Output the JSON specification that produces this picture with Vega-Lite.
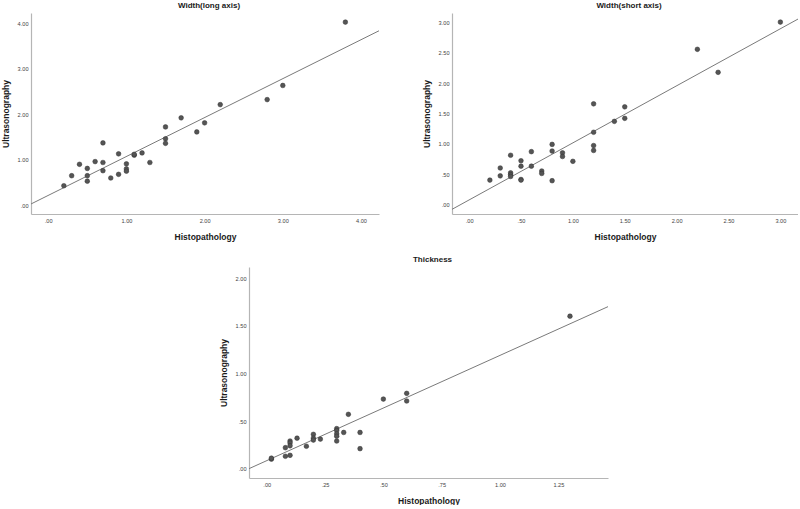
{
  "$schema": "https://vega.github.io/schema/vega-lite/v6.json",
  "padding": {"left": 1, "top": 2, "right": 0, "bottom": 0},
  "background": "white",
  "config": {
    "view": {"stroke": null},
    "font": "Liberation Sans",
    "axis": {"grid": false, "ticks": false, "tickSize": 0, "domainColor": "#b5b5b5", "domainWidth": 1.2, "labelFontSize": 5.6, "labelColor": "#444444", "labelFont": "Liberation Sans", "titleFont": "Liberation Sans", "titleFontSize": 8.5, "titleFontWeight": "bold", "titleColor": "#1a1a1a", "labelPadding": 3, "labelFlush": false, "labelOverlap": false},
    "axisX": {"labelPadding": 4.5, "titlePadding": 8},
    "axisY": {"titlePadding": 7},
    "title": {"fontSize": 8, "fontWeight": "bold", "color": "#1a1a1a", "font": "Liberation Sans", "offset": 3, "dx": 4}
  },
  "datasets": {
    "long": [
      {"histo": 0.2, "ultra": 0.43}, {"histo": 0.3, "ultra": 0.65}, {"histo": 0.4, "ultra": 0.90},
      {"histo": 0.5, "ultra": 0.81}, {"histo": 0.5, "ultra": 0.65}, {"histo": 0.5, "ultra": 0.53},
      {"histo": 0.6, "ultra": 0.96}, {"histo": 0.7, "ultra": 1.37}, {"histo": 0.7, "ultra": 0.94},
      {"histo": 0.7, "ultra": 0.76}, {"histo": 0.8, "ultra": 0.60}, {"histo": 0.9, "ultra": 1.13},
      {"histo": 0.9, "ultra": 0.68}, {"histo": 1.0, "ultra": 0.91}, {"histo": 1.0, "ultra": 0.80},
      {"histo": 1.0, "ultra": 0.75}, {"histo": 1.1, "ultra": 1.10}, {"histo": 1.1, "ultra": 1.12},
      {"histo": 1.2, "ultra": 1.15}, {"histo": 1.3, "ultra": 0.94}, {"histo": 1.5, "ultra": 1.72},
      {"histo": 1.5, "ultra": 1.46}, {"histo": 1.5, "ultra": 1.36}, {"histo": 1.7, "ultra": 1.92},
      {"histo": 1.9, "ultra": 1.61}, {"histo": 2.0, "ultra": 1.81}, {"histo": 2.2, "ultra": 2.21},
      {"histo": 2.8, "ultra": 2.32}, {"histo": 3.0, "ultra": 2.63}, {"histo": 3.8, "ultra": 4.02}
    ],
    "longLine": [{"histo": -0.22, "ultra": 0.03}, {"histo": 4.23, "ultra": 3.83}],
    "short": [
      {"histo": 0.2, "ultra": 0.40}, {"histo": 0.3, "ultra": 0.60}, {"histo": 0.3, "ultra": 0.47},
      {"histo": 0.4, "ultra": 0.81}, {"histo": 0.4, "ultra": 0.52}, {"histo": 0.4, "ultra": 0.49},
      {"histo": 0.4, "ultra": 0.46}, {"histo": 0.5, "ultra": 0.72}, {"histo": 0.5, "ultra": 0.63},
      {"histo": 0.5, "ultra": 0.41}, {"histo": 0.5, "ultra": 0.40}, {"histo": 0.6, "ultra": 0.87},
      {"histo": 0.6, "ultra": 0.63}, {"histo": 0.7, "ultra": 0.55}, {"histo": 0.7, "ultra": 0.51},
      {"histo": 0.8, "ultra": 0.99}, {"histo": 0.8, "ultra": 0.88}, {"histo": 0.8, "ultra": 0.39},
      {"histo": 0.9, "ultra": 0.85}, {"histo": 0.9, "ultra": 0.79}, {"histo": 1.0, "ultra": 0.71},
      {"histo": 1.2, "ultra": 1.66}, {"histo": 1.2, "ultra": 1.19}, {"histo": 1.2, "ultra": 0.97},
      {"histo": 1.2, "ultra": 0.89}, {"histo": 1.4, "ultra": 1.37}, {"histo": 1.5, "ultra": 1.61},
      {"histo": 1.5, "ultra": 1.42}, {"histo": 2.2, "ultra": 2.56}, {"histo": 2.4, "ultra": 2.18},
      {"histo": 3.0, "ultra": 3.01}
    ],
    "shortLine": [{"histo": -0.165, "ultra": -0.083}, {"histo": 3.17, "ultra": 3.06}],
    "thick": [
      {"histo": 0.02, "ultra": 0.10}, {"histo": 0.02, "ultra": 0.11}, {"histo": 0.08, "ultra": 0.22},
      {"histo": 0.08, "ultra": 0.13}, {"histo": 0.10, "ultra": 0.29}, {"histo": 0.10, "ultra": 0.27},
      {"histo": 0.10, "ultra": 0.24}, {"histo": 0.10, "ultra": 0.14}, {"histo": 0.13, "ultra": 0.32},
      {"histo": 0.17, "ultra": 0.235}, {"histo": 0.20, "ultra": 0.36}, {"histo": 0.20, "ultra": 0.32},
      {"histo": 0.20, "ultra": 0.30}, {"histo": 0.23, "ultra": 0.31}, {"histo": 0.30, "ultra": 0.42},
      {"histo": 0.30, "ultra": 0.40}, {"histo": 0.30, "ultra": 0.365}, {"histo": 0.30, "ultra": 0.34},
      {"histo": 0.30, "ultra": 0.29}, {"histo": 0.33, "ultra": 0.38}, {"histo": 0.35, "ultra": 0.57},
      {"histo": 0.40, "ultra": 0.38}, {"histo": 0.40, "ultra": 0.21}, {"histo": 0.50, "ultra": 0.73},
      {"histo": 0.60, "ultra": 0.79}, {"histo": 0.60, "ultra": 0.71}, {"histo": 1.30, "ultra": 1.60}
    ],
    "thickLine": [{"histo": -0.076, "ultra": 0.0}, {"histo": 1.463, "ultra": 1.70}]
  },
  "spacing": 15,
  "vconcat": [
    {
      "bounds": "flush",
      "spacing": 73,
      "hconcat": [
        {
          "width": 348, "height": 201,
          "title": {"text": "Width(long axis)"},
          "encoding": {
            "x": {"field": "histo", "type": "quantitative", "title": "Histopathology",
                  "scale": {"domain": [-0.22, 4.23], "nice": false, "zero": false},
                  "axis": {"values": [0, 1, 2, 3, 4], "labelExpr": "datum.value < 1 ? substring(format(datum.value, '.2f'), 1) : format(datum.value, '.2f')"}},
            "y": {"field": "ultra", "type": "quantitative", "title": "Ultrasonography",
                  "scale": {"domain": [-0.19, 4.22], "nice": false, "zero": false},
                  "axis": {"values": [0, 1, 2, 3, 4], "labelExpr": "datum.value < 1 ? substring(format(datum.value, '.2f'), 1) : format(datum.value, '.2f')"}}
          },
          "layer": [
            {"data": {"name": "longLine"}, "mark": {"type": "line", "color": "#7a7a7a", "strokeWidth": 1, "clip": true}},
            {"data": {"name": "long"}, "mark": {"type": "point", "filled": true, "size": 22, "color": "#555555", "stroke": "#333333", "strokeWidth": 0.5, "opacity": 1}}
          ]
        },
        {
          "width": 346, "height": 201,
          "title": {"text": "Width(short axis)"},
          "encoding": {
            "x": {"field": "histo", "type": "quantitative", "title": "Histopathology",
                  "scale": {"domain": [-0.165, 3.17], "nice": false, "zero": false},
                  "axis": {"values": [0, 0.5, 1, 1.5, 2, 2.5, 3], "labelExpr": "datum.value < 1 ? substring(format(datum.value, '.2f'), 1) : format(datum.value, '.2f')"}},
            "y": {"field": "ultra", "type": "quantitative", "title": "Ultrasonography",
                  "scale": {"domain": [-0.16, 3.16], "nice": false, "zero": false},
                  "axis": {"values": [0, 0.5, 1, 1.5, 2, 2.5, 3], "labelExpr": "datum.value < 1 ? substring(format(datum.value, '.2f'), 1) : format(datum.value, '.2f')"}}
          },
          "layer": [
            {"data": {"name": "shortLine"}, "mark": {"type": "line", "color": "#7a7a7a", "strokeWidth": 1, "clip": true}},
            {"data": {"name": "short"}, "mark": {"type": "point", "filled": true, "size": 22, "color": "#555555", "stroke": "#333333", "strokeWidth": 0.5, "opacity": 1}}
          ]
        }
      ]
    },
    {
      "bounds": "flush",
      "spacing": 10,
      "hconcat": [
        {"width": 208, "height": 10, "data": {"values": []}, "mark": "point", "encoding": {}},
        {
          "width": 359, "height": 211,
          "title": {"text": "Thickness"},
          "encoding": {
            "x": {"field": "histo", "type": "quantitative", "title": "Histopathology",
                  "scale": {"domain": [-0.076, 1.463], "nice": false, "zero": false},
                  "axis": {"values": [0, 0.25, 0.5, 0.75, 1, 1.25], "labelExpr": "datum.value < 1 ? substring(format(datum.value, '.2f'), 1) : format(datum.value, '.2f')"}},
            "y": {"field": "ultra", "type": "quantitative", "title": "Ultrasonography",
                  "scale": {"domain": [-0.098, 2.116], "nice": false, "zero": false},
                  "axis": {"values": [0, 0.5, 1, 1.5, 2], "labelExpr": "datum.value < 1 ? substring(format(datum.value, '.2f'), 1) : format(datum.value, '.2f')"}}
          },
          "layer": [
            {"data": {"name": "thickLine"}, "mark": {"type": "line", "color": "#7a7a7a", "strokeWidth": 1, "clip": true}},
            {"data": {"name": "thick"}, "mark": {"type": "point", "filled": true, "size": 22, "color": "#555555", "stroke": "#333333", "strokeWidth": 0.5, "opacity": 1}}
          ]
        }
      ]
    }
  ]
}
